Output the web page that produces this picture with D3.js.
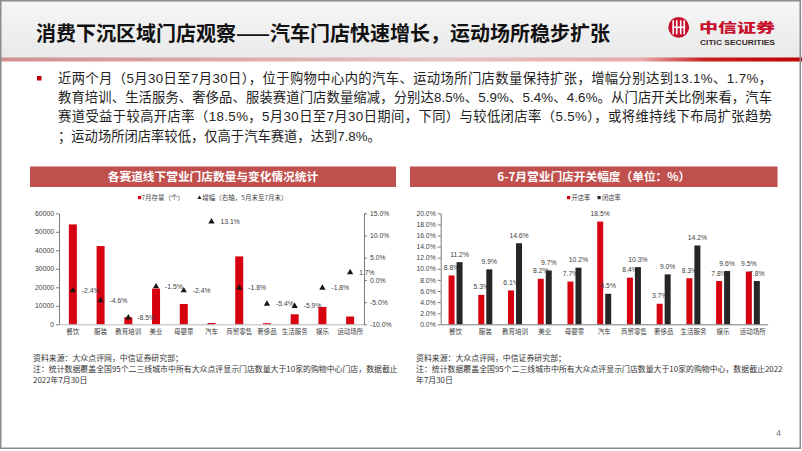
<!DOCTYPE html>
<html><head><meta charset="utf-8">
<script src="https://cdn.jsdelivr.net/npm/d3@7"></script>
<style>
html,body{margin:0;padding:0;background:#fff;}
svg{display:block;}
text{font-family:"Liberation Sans","Noto Sans CJK SC",sans-serif;}
</style></head>
<body>
<svg id="c" width="802" height="451"></svg>
<script>
// ---------- data ----------
const categories = ['餐饮','服装','教育培训','美业','母婴童','汽车','商贸零售','奢侈品','生活服务','娱乐','运动场所'];
const julyStock = [54000, 42300, 3800, 19300, 11000, 700, 36700, 600, 5400, 9400, 4200];
const growthPct = [-2.4, -4.6, -8.5, -1.5, -2.4, 13.1, -1.8, -5.4, -5.9, -1.8, 1.7];
const openRate  = [8.8, 5.3, 6.1, 8.2, 7.7, 18.5, 8.4, 3.7, 8.3, 7.8, 9.5];
const closeRate = [11.2, 9.9, 14.6, 9.7, 10.2, 5.5, 10.3, 9.0, 14.2, 9.6, 7.8];
const stockTicks = [0, 10000, 20000, 30000, 40000, 50000, 60000];
const growthTicks = [-10, -5, 0, 5, 10, 15];
const rateTicks = [0, 2, 4, 6, 8, 10, 12, 14, 16, 18, 20];

const titleText = '消费下沉区域门店观察——汽车门店快速增长，运动场所稳步扩张';
const bulletLines = [
 '近两个月（5月30日至7月30日），位于购物中心内的汽车、运动场所门店数量保持扩张，增幅分别达到13.1%、1.7%，',
 '教育培训、生活服务、奢侈品、服装赛道门店数量缩减，分别达8.5%、5.9%、5.4%、4.6%。从门店开关比例来看，汽车',
 '赛道受益于较高开店率（18.5%，5月30日至7月30日期间，下同）与较低闭店率（5.5%），或将维持线下布局扩张趋势',
 '；运动场所闭店率较低，仅高于汽车赛道，达到7.8%。'
];
const leftTitle = '各赛道线下营业门店数量与变化情况统计';
const rightTitle = '6-7月营业门店开关幅度（单位：%）';
const leftLegend = ['7月存量（个）', '增幅（右轴，5月末至7月末）'];
const rightLegend = ['开店率', '闭店率'];
const leftNotes = ['资料来源：大众点评网，中信证券研究部；',
 '注：统计数据覆盖全国95个二三线城市中所有大众点评显示门店数量大于10家的购物中心门店，数据截止',
 '2022年7月30日'];
const rightNotes = ['资料来源：大众点评网，中信证券研究部；',
 '注：统计数据覆盖全国95个二三线城市中所有大众点评显示门店数量大于10家的购物中心，数据截止2022',
 '年7月30日'];

// ---------- styles ----------
const RED = '#d7000f', DARK = '#262626', HEAD = '#c0504d', TXT = '#404040';
const svg = d3.select('#c');
const defs = svg.append('defs');
const hg = defs.append('linearGradient').attr('id','hdr').attr('x1',0).attr('y1',0).attr('x2',0).attr('y2',1);
hg.append('stop').attr('offset','0%').attr('stop-color','#f6f6f6');
hg.append('stop').attr('offset','100%').attr('stop-color','#e9e9e9');
const lg = defs.append('linearGradient').attr('id','rline').attr('x1',0).attr('y1',0).attr('x2',1).attr('y2',0);
lg.append('stop').attr('offset','0%').attr('stop-color','#d38e8e');
lg.append('stop').attr('offset','55%').attr('stop-color','#e6c3c3');
lg.append('stop').attr('offset','80%').attr('stop-color','#e8a8a8');
lg.append('stop').attr('offset','88%').attr('stop-color','#c81e1e');
lg.append('stop').attr('offset','100%').attr('stop-color','#c00000');

// header
svg.append('rect').attr('x',0).attr('y',0).attr('width',802).attr('height',58).attr('fill','url(#hdr)');
svg.append('rect').attr('x',0).attr('y',57.5).attr('width',802).attr('height',4).attr('fill','url(#rline)');
svg.append('text').attr('x',36).attr('y',40.5).attr('font-size',20).attr('font-weight','bold')
  .attr('fill','#111').style('font-family','"Noto Sans CJK SC",sans-serif').text(titleText);

// logo
const logo = svg.append('g');
logo.append('circle').attr('cx',678.7).attr('cy',27.3).attr('r',10.4).attr('fill','#c8102e');
[-5.5,-2,2,5.5].forEach(dx=>{
  logo.append('rect').attr('x',678.7+dx-0.8).attr('y',27.3-7).attr('width',1.6).attr('height',14).attr('fill','#fff');
});
logo.append('rect').attr('x',678.7-6.5).attr('y',27.3-0.8).attr('width',13).attr('height',1.6).attr('fill','#fff');
logo.append('text').attr('x',699).attr('y',31.5).attr('font-size',13).attr('font-weight','900')
  .attr('fill','#c8102e').attr('textLength',76).attr('lengthAdjust','spacingAndGlyphs')
  .style('font-family','"Noto Sans CJK SC",sans-serif').text('中信证券');
logo.append('text').attr('x',700).attr('y',44.7).attr('font-size',7.4).attr('font-weight','bold')
  .attr('fill','#3a2a2a').attr('textLength',75).attr('lengthAdjust','spacingAndGlyphs').text('CITIC SECURITIES');

// bullet text
svg.append('rect').attr('x',37).attr('y',76).attr('width',4.5).attr('height',4.5).attr('fill','#c00000');
bulletLines.forEach((l,i)=>{
  const t = svg.append('text').attr('x',58).attr('y',83+i*19.2).attr('font-size',13.3).attr('fill','#222').text(l);
  if (i < 3) t.attr('textLength',714).attr('lengthAdjust','spacing');
});

// section headers
function secHeader(x,w,t){
  svg.append('rect').attr('x',x).attr('y',166.5).attr('width',w).attr('height',20.5).attr('fill',HEAD);
  svg.append('text').attr('x',x+w/2).attr('y',181).attr('text-anchor','middle').attr('font-size',11.7)
    .attr('font-weight','bold').attr('fill','#fff').style('font-family','"Noto Sans CJK SC",sans-serif').text(t);
}
secHeader(30,366,leftTitle);
secHeader(410,367.5,rightTitle);

// ---------- left chart ----------
const yTop = 213.3, yBot = 324.3;
const xL = d3.scaleBand().domain(categories).range([59,364]);
const yL = d3.scaleLinear().domain([0,60000]).range([yBot,yTop]);
const yR = d3.scaleLinear().domain([-10,15]).range([yBot,yTop]);
const gl = svg.append('g');

function styleAxis(g){
  g.selectAll('path,line').attr('stroke','#595959').attr('stroke-width',0.8);
  g.selectAll('text').attr('fill',TXT).attr('font-size',6.8).style('font-family','"Liberation Sans",sans-serif');
}
const axL = gl.append('g').attr('transform','translate(59,0)')
  .call(d3.axisLeft(yL).tickValues(stockTicks).tickSize(3).tickSizeOuter(0).tickPadding(2).tickFormat(d3.format('d')));
styleAxis(axL);
const axR = gl.append('g').attr('transform','translate(364,0)')
  .call(d3.axisRight(yR).tickValues(growthTicks).tickSize(3).tickSizeOuter(0).tickPadding(3).tickFormat(d=>d.toFixed(1)+'%'));
styleAxis(axR);

gl.selectAll('rect.bar').data(categories).join('rect').attr('class','bar')
  .attr('x',d=>xL(d)+xL.bandwidth()/2-4).attr('width',8)
  .attr('y',(d,i)=>yL(julyStock[i])).attr('height',(d,i)=>yBot-yL(julyStock[i])).attr('fill',RED);

const axB = gl.append('g').attr('transform',`translate(0,${yBot})`)
  .call(d3.axisBottom(xL).tickSize(0).tickPadding(5));
axB.select('path').attr('stroke','#a6a6a6').attr('stroke-width',0.8);
axB.selectAll('text').attr('fill',TXT).attr('font-size',6.5).style('font-family','"Noto Sans CJK SC",sans-serif');

const tri = d3.symbol().type(d3.symbolTriangle).size(17);
gl.selectAll('path.tri').data(categories).join('path').attr('class','tri')
  .attr('d',tri).attr('transform',(d,i)=>`translate(${xL(d)+xL.bandwidth()/2},${yR(growthPct[i])})`)
  .attr('fill','#1c1414');
gl.selectAll('text.glab').data(categories).join('text').attr('class','glab')
  .attr('x',d=>xL(d)+xL.bandwidth()/2+9).attr('y',(d,i)=>yR(growthPct[i])+2.4)
  .attr('font-size',6.8).attr('fill',TXT).text((d,i)=>growthPct[i].toFixed(1)+'%');

// left legend
gl.append('rect').attr('x',138).attr('y',196).attr('width',3.2).attr('height',3.2).attr('fill',RED);
gl.append('text').attr('x',141.5).attr('y',200.3).attr('font-size',6.5).attr('fill',TXT)
  .style('font-family','"Noto Sans CJK SC",sans-serif').text(leftLegend[0]);
gl.append('path').attr('d',d3.symbol().type(d3.symbolTriangle).size(7)).attr('transform','translate(199.5,197.9)').attr('fill','#1c1414');
gl.append('text').attr('x',202.3).attr('y',200.3).attr('font-size',6.5).attr('fill',TXT)
  .style('font-family','"Noto Sans CJK SC",sans-serif').text(leftLegend[1]);

// ---------- right chart ----------
const gr = svg.append('g');
const x0 = d3.scaleBand().domain(categories).range([440.7,767.7]);
const x1 = d3.scaleBand().domain(['open','close']).range([0,14]).paddingInner(0.25);
const y2 = d3.scaleLinear().domain([0,20]).range([yBot,yTop]);

const ax2 = gr.append('g').attr('transform','translate(440.7,0)')
  .call(d3.axisLeft(y2).tickValues(rateTicks).tickSize(3).tickSizeOuter(0).tickPadding(2).tickFormat(d=>d.toFixed(1)+'%'));
styleAxis(ax2);

const series = [{key:'open',vals:openRate,color:RED},{key:'close',vals:closeRate,color:DARK}];
series.forEach(s=>{
  gr.selectAll('rect.b'+s.key).data(categories).join('rect').attr('class','b'+s.key)
    .attr('x',d=>x0(d)+x0.bandwidth()/2-7+x1(s.key)).attr('width',x1.bandwidth())
    .attr('y',(d,i)=>y2(s.vals[i])).attr('height',(d,i)=>yBot-y2(s.vals[i])).attr('fill',s.color);
  gr.selectAll('text.l'+s.key).data(categories).join('text').attr('class','l'+s.key)
    .attr('x',d=>x0(d)+x0.bandwidth()/2-7+x1(s.key)+x1.bandwidth()/2)
    .attr('y',(d,i)=>y2(s.vals[i])-5.5).attr('text-anchor','middle')
    .attr('font-size',6.8).attr('fill',TXT).text((d,i)=>s.vals[i].toFixed(1)+'%');
});

const axB2 = gr.append('g').attr('transform',`translate(0,${yBot})`)
  .call(d3.axisBottom(x0).tickSize(0).tickPadding(5));
axB2.select('path').attr('stroke','#595959').attr('stroke-width',0.8);
axB2.selectAll('text').attr('fill',TXT).attr('font-size',6.5).style('font-family','"Noto Sans CJK SC",sans-serif');

// right legend
[[567,RED,rightLegend[0]],[597.5,DARK,rightLegend[1]]].forEach(([x,c,t])=>{
  gr.append('rect').attr('x',x).attr('y',196).attr('width',3.2).attr('height',3.2).attr('fill',c);
  gr.append('text').attr('x',x+4.5).attr('y',200.3).attr('font-size',6.3).attr('fill',TXT)
    .style('font-family','"Noto Sans CJK SC",sans-serif').text(t);
});

// notes
function notes(x,arr){
  arr.forEach((t,i)=>svg.append('text').attr('x',x).attr('y',361+i*11).attr('font-size',7.9)
    .attr('fill','#333').style('font-family','"Noto Sans CJK SC",sans-serif').text(t));
}
notes(33,leftNotes);
notes(416,rightNotes);

// page number
svg.append('text').attr('x',776).attr('y',436).attr('font-size',9).attr('fill','#777').text('4');

// frame
svg.append('rect').attr('x',0.75).attr('y',0.75).attr('width',799.5).attr('height',447.5)
  .attr('fill','none').attr('stroke','#8c8c8c').attr('stroke-width',1.5);
</script>
</body></html>
